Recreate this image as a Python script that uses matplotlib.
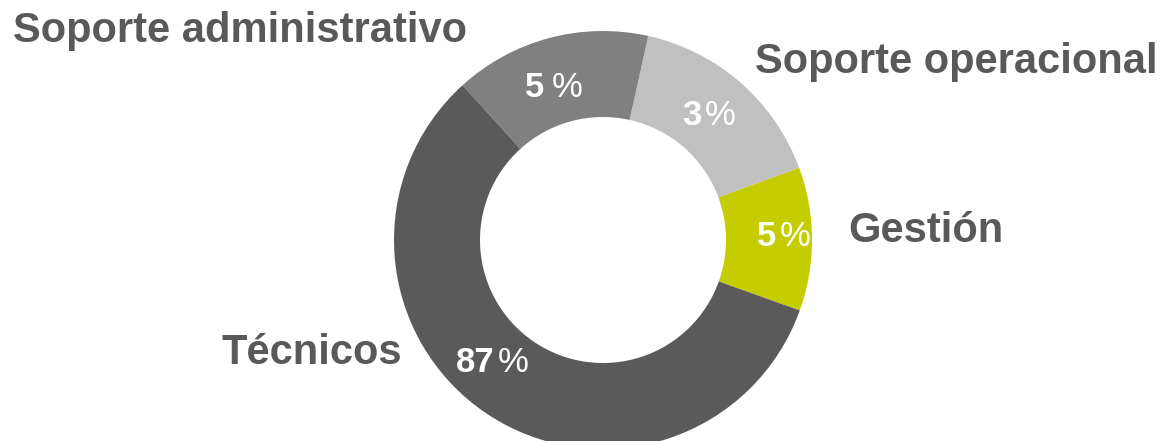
import matplotlib
matplotlib.use("Agg")
import matplotlib.pyplot as plt

# slice sizes (angular share), counter-clockwise from Gestión
categories = ["Gestión", "Soporte operacional", "Soporte administrativo", "Técnicos"]
shares = [11.1, 15.9, 15.2, 57.8]
pct_digits = ["5", "3", "5", "87"]
colors = ["#c5cd00", "#c0c0c0", "#808080", "#5a5a5a"]

# label layout (pixel coords, y measured from the top)
cat_pos = [(848, 242), (755, 73), (13, 42), (222, 364)]
pct_pos = [(757, 780, 246), (682, 705, 125), (525, 552, 97), (456, 498, 372)]

W, H = 1171, 441
fig = plt.figure(figsize=(W / 100, H / 100), dpi=100)
ax = fig.add_axes([0, 0, 1, 1])

ax.pie(
    shares,
    colors=colors,
    startangle=-19.7,
    counterclock=True,
    center=(603, H - 240),
    radius=209,
    wedgeprops=dict(width=86, edgecolor="none", linewidth=0),
    frame=True,
)
ax.set_xlim(0, W)
ax.set_ylim(0, H)
ax.set_aspect("equal")
ax.axis("off")

font = ["Liberation Sans", "DejaVu Sans"]
text_grey = "#595959"

for name, (x, y) in zip(categories, cat_pos):
    ax.text(x, H - y, name, fontsize=30, fontweight="bold", color=text_grey,
            family=font, ha="left", va="baseline")

for digits, (xd, xp, y) in zip(pct_digits, pct_pos):
    ax.text(xd, H - y, digits, fontsize=25, fontweight="bold", color="white",
            family=font, ha="left", va="baseline")
    ax.text(xp, H - y, "%", fontsize=25, color="white",
            family=font, ha="left", va="baseline")

fig.savefig("out.png", dpi=100)
